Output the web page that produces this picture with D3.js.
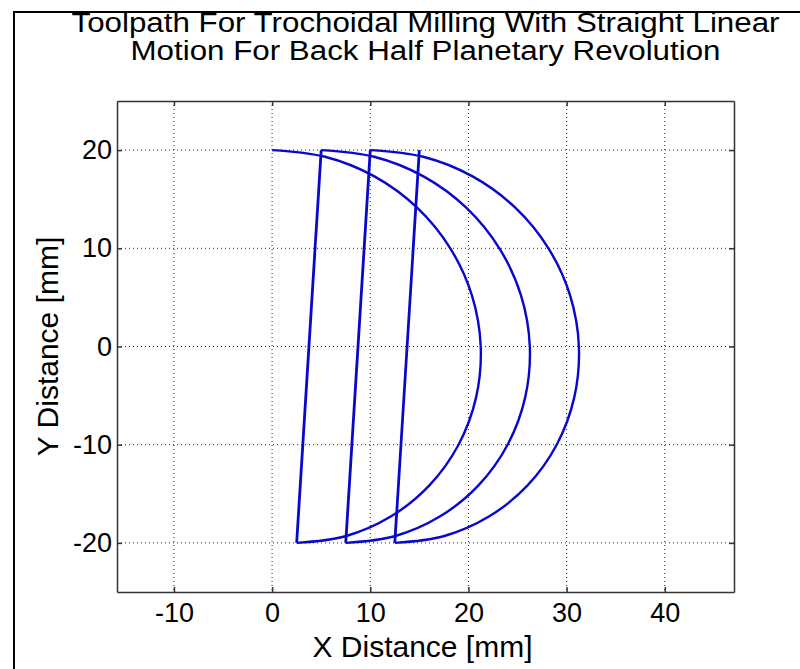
<!DOCTYPE html>
<html>
<head>
<meta charset="utf-8">
<script src="https://cdn.jsdelivr.net/npm/d3@7"></script>
<style>
  body { margin: 0; background: #fff; }
  text { font-family: "Liberation Sans", Arial, Helvetica, sans-serif; fill: #000; }
</style>
</head>
<body>
<svg id="chart" width="800" height="669"></svg>
<script>
// values (mm)
const arcY  = [20, 19.32, 17.32, 14.14, 10, 5.18, 0, -5.18, -10, -14.14, -17.32, -19.32, -20];
const arc1X = [0, 5.39, 10.42, 14.77, 18.15, 20.36, 21.25, 20.78, 18.99, 16.02, 12.08, 7.47, 2.5];
const arc2X = [5, 10.39, 15.42, 19.77, 23.15, 25.36, 26.25, 25.78, 23.99, 21.02, 17.08, 12.47, 7.5];
const arc3X = [10, 15.39, 20.42, 24.77, 28.15, 30.36, 31.25, 30.78, 28.99, 26.02, 22.08, 17.47, 12.5];
// straight plunge segments: bottom x -> top x
const lineFromX = [2.5, 7.5, 12.5];
const lineToX   = [5, 10, 15];
const lineFromY = [-20, -20, -20];
const lineToY   = [20, 20, 20];

const xTicks = [-10, 0, 10, 20, 30, 40];
const yTicks = [-20, -10, 0, 10, 20];
const xDomain = [-15.8, 47.05];
const yDomain = [-25, 25];

const titleLines = ["Toolpath For Trochoidal Milling With Straight Linear",
                    "Motion For Back Half Planetary Revolution"];
const titleWidths = [708, 590];

const margin = {top: 101, right: 66, bottom: 77, left: 117};
const svg = d3.select('#chart');
const W = +svg.attr('width'), H = +svg.attr('height');
const width = W - margin.left - margin.right;
const height = H - margin.top - margin.bottom;

const x = d3.scaleLinear().domain(xDomain).range([0, width]);
const y = d3.scaleLinear().domain(yDomain).range([height, 0]);

// outer frame (only top/left edges show)
svg.append('rect')
  .attr('x', 14).attr('y', 12).attr('width', 1000).attr('height', 1000)
  .attr('fill', 'none').attr('stroke', '#000').attr('stroke-width', 2);

const g = svg.append('g').attr('transform', 'translate(' + margin.left + ',' + margin.top + ')');

// grid
g.append('g').selectAll('line').data(xTicks).join('line')
  .attr('x1', d => x(d)).attr('x2', d => x(d)).attr('y1', 0).attr('y2', height)
  .attr('stroke', '#222').attr('stroke-dasharray', '1,3');
g.append('g').selectAll('line').data(yTicks).join('line')
  .attr('y1', d => y(d)).attr('y2', d => y(d)).attr('x1', 0).attr('x2', width)
  .attr('stroke', '#222').attr('stroke-dasharray', '1,3');

// axes, ticks inward, box on all sides
const axB = g.append('g').attr('transform', 'translate(0,' + height + ')')
  .call(d3.axisBottom(x).tickValues(xTicks).tickSize(-5).tickSizeOuter(0).tickPadding(11));
const axT = g.append('g')
  .call(d3.axisTop(x).tickValues(xTicks).tickSize(-5).tickSizeOuter(0).tickFormat(''));
const axL = g.append('g')
  .call(d3.axisLeft(y).tickValues(yTicks).tickSize(-5).tickSizeOuter(0).tickPadding(5));
const axR = g.append('g').attr('transform', 'translate(' + width + ',0)')
  .call(d3.axisRight(y).tickValues(yTicks).tickSize(-5).tickSizeOuter(0).tickFormat(''));

[axB, axT, axL, axR].forEach(a => {
  a.select('.domain').attr('stroke', '#333').attr('stroke-width', 1.5);
  a.selectAll('.tick line').attr('stroke', '#333').attr('stroke-width', 1.5);
  a.selectAll('text').style('font-size', '27px').attr('fill', '#000')
    .style('font-family', '"Liberation Sans", Arial, sans-serif');
});
axB.selectAll('text').text(d => d < 0 ? '-' + Math.abs(d) : d);
axL.selectAll('text').text(d => d < 0 ? '-' + Math.abs(d) : d);

// toolpath
const arcLine = d3.line().x(d => x(d[0])).y(d => y(d[1])).curve(d3.curveCatmullRom);
[arc1X, arc2X, arc3X].forEach(xs => {
  g.append('path')
    .datum(xs.map((v, i) => [v, arcY[i]]))
    .attr('d', arcLine)
    .attr('fill', 'none').attr('stroke', '#0808cc').attr('stroke-width', 2.4);
});
g.append('g').selectAll('line').data(lineFromX).join('line')
  .attr('x1', d => x(d)).attr('y1', (d, i) => y(lineFromY[i]))
  .attr('x2', (d, i) => x(lineToX[i])).attr('y2', (d, i) => y(lineToY[i]))
  .attr('stroke', '#0808cc').attr('stroke-width', 2.8);

// title (wide face in the original, so stretch to its measured width)
const cx = margin.left + width / 2;
svg.append('g').selectAll('text').data(titleLines).join('text')
  .attr('x', cx).attr('y', (d, i) => 32 + i * 28)
  .attr('text-anchor', 'middle').style('font-size', '27px')
  .attr('textLength', (d, i) => titleWidths[i])
  .attr('lengthAdjust', 'spacingAndGlyphs')
  .text(d => d);
svg.append('text').attr('x', cx - 3).attr('y', 657)
  .attr('text-anchor', 'middle').style('font-size', '30px')
  .text('X Distance [mm]');
svg.append('text')
  .attr('transform', 'translate(58,' + (margin.top + height / 2) + ') rotate(-90)')
  .attr('text-anchor', 'middle').style('font-size', '30px')
  .text('Y Distance [mm]');
</script>
</body>
</html>
